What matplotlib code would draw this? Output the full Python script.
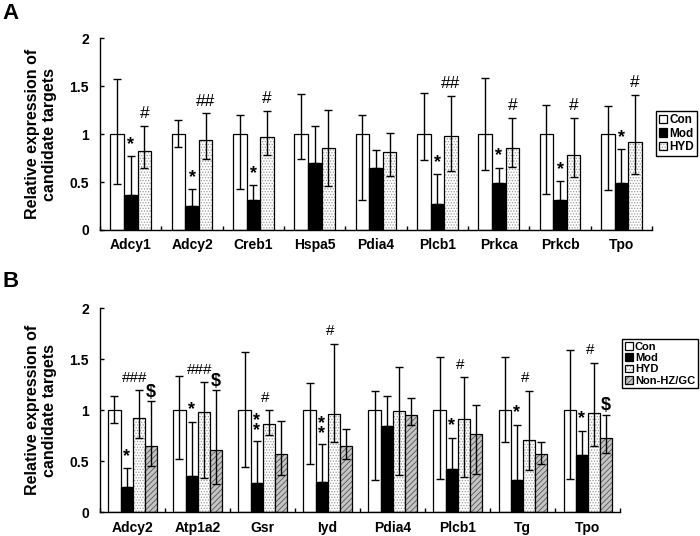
import numpy as np
import matplotlib
matplotlib.use('Agg')
from matplotlib import pyplot as plt

plt.rcParams['font.family'] = ['Liberation Sans', 'DejaVu Sans']
plt.rcParams['hatch.linewidth'] = 0.6

# panel A
genes_a = ['Adcy1', 'Adcy2', 'Creb1', 'Hspa5', 'Pdia4', 'Plcb1', 'Prkca', 'Prkcb', 'Tpo']
con_a_hi = [1.575, 1.143, 1.202, 1.418, 1.195, 1.425, 1.582, 1.30, 1.293]
con_a_lo = [0.48, 0.871, 0.425, 0.739, 0.314, 0.728, 0.624, 0.376, 0.415]
mod_a = [0.366, 0.251, 0.31, 0.704, 0.652, 0.275, 0.491, 0.31, 0.495]
mod_a_hi = [0.767, 0.429, 0.467, 1.087, 0.833, 0.585, 0.652, 0.509, 0.847]
hyd_a = [0.829, 0.937, 0.972, 0.854, 0.819, 0.979, 0.857, 0.787, 0.916]
hyd_a_hi = [1.09, 1.216, 1.24, 1.254, 1.01, 1.397, 1.167, 1.164, 1.408]
hyd_a_lo = [0.65, 0.746, 0.78, 0.46, 0.564, 0.617, 0.655, 0.554, 0.589]
mod_a_sig = ['*', '*', '*', '', '', '*', '*', '*', '*']
hyd_a_sig = ['#', '##', '#', '', '', '##', '#', '#', '#']

# panel B
genes_b = ['Adcy2', 'Atp1a2', 'Gsr', 'Iyd', 'Pdia4', 'Plcb1', 'Tg', 'Tpo']
con_b_hi = [1.14, 1.337, 1.572, 1.271, 1.193, 1.52, 1.523, 1.592]
con_b_lo = [0.873, 0.52, 0.448, 0.474, 0.317, 0.324, 0.693, 0.327]
mod_b = [0.252, 0.359, 0.284, 0.294, 0.85, 0.428, 0.32, 0.565]
mod_b_hi = [0.431, 0.886, 0.703, 0.667, 1.14, 0.729, 0.853, 0.801]
hyd_b = [0.922, 0.987, 0.869, 0.967, 0.99, 0.915, 0.706, 0.971]
hyd_b_hi = [1.199, 1.278, 1.0, 1.654, 1.425, 1.327, 1.193, 1.467]
hyd_b_lo = [0.725, 0.34, 0.758, 0.686, 0.366, 0.35, 0.415, 0.65]
non_b = [0.65, 0.611, 0.572, 0.654, 0.951, 0.771, 0.572, 0.729]
non_b_hi = [1.088, 1.196, 0.899, 0.817, 1.121, 1.056, 0.693, 0.958]
non_b_lo = [0.454, 0.281, 0.366, 0.52, 0.856, 0.379, 0.47, 0.585]
mod_b_sig = ['*', '*', '**', '**', '', '*', '*', '*']
hyd_b_sig = ['###', '###', '#', '#', '', '#', '#', '#']
non_b_sig = ['$', '$', '', '', '', '', '', '$']

fig = plt.figure(figsize=(7, 5.36), dpi=100)
axA = fig.add_axes([0.1429, 0.5709, 0.7886, 0.3576])
axB = fig.add_axes([0.1429, 0.0442, 0.7429, 0.3806])


def draw_bars(ax, x, vals, lo, hi, w, style, label):
    fc, hatch, hc = style
    bars = ax.bar(x, vals, w, color=fc, edgecolor='k', linewidth=0.9,
                  hatch=hatch, label=label, zorder=2)
    if hc is not None:
        for p in bars:
            p._hatch_color = matplotlib.colors.to_rgba(hc)
    vals = np.array(vals)
    ax.errorbar(x, vals, yerr=[vals - np.array(lo), np.array(hi) - vals],
                fmt='none', ecolor='k', elinewidth=1.0, capsize=2.6,
                capthick=1.0, zorder=3)


def mark(ax, x, tops, sigs, off, size, weight):
    for xi, t, s in zip(x, tops, sigs):
        if s == '':
            continue
        if s == '**':
            ax.text(xi, t + 0.15, '*\n*', ha='center', va='center',
                    fontsize=13, fontweight='bold', linespacing=0.45)
        else:
            ax.text(xi, t + off, s, ha='center', va='center',
                    fontsize=size, fontweight=weight)


styles = {
    'Con': ('white', None, None),
    'Mod': ('black', None, None),
    'HYD': ('white', '......', '#9a9a9a'),
    'Non-HZ/GC': ('#c4c4c4', '//////', '#555555'),
}


def style_axes(ax, genes):
    n = len(genes)
    ax.set_xlim(0, n)
    ax.set_ylim(0, 2)
    ax.set_yticks([0, 0.5, 1, 1.5, 2])
    ax.set_yticklabels(['0', '0.5', '1', '1.5', '2'], fontsize=10, fontweight='bold')
    ax.set_xticks(np.arange(n) + 0.5)
    ax.set_xticklabels(genes, fontsize=10, fontweight='bold')
    ax.set_xticks(np.arange(n + 1), minor=True)
    ax.tick_params(axis='x', which='major', length=0, pad=6)
    ax.tick_params(axis='x', which='minor', direction='in', length=3, width=1)
    ax.tick_params(axis='y', direction='in', length=3, width=1, pad=8)
    for s in ['top', 'right']:
        ax.spines[s].set_visible(False)
    for s in ['left', 'bottom']:
        ax.spines[s].set_linewidth(1.0)
    ax.set_ylabel('Relative expression of\ncandidate targets', fontsize=11.5,
                  fontweight='bold', labelpad=9)


leg_kw = dict(loc='upper left', frameon=True, fancybox=False, edgecolor='k',
              framealpha=1, borderpad=0.25, labelspacing=0.12,
              handlelength=0.7, handleheight=0.7, handletextpad=0.2,
              borderaxespad=0)

# panel A
xa = np.arange(len(genes_a)) + 0.5
wa = 0.222
draw_bars(axA, xa - wa, np.ones(len(genes_a)), con_a_lo, con_a_hi, wa, styles['Con'], 'Con')
draw_bars(axA, xa, mod_a, mod_a, mod_a_hi, wa, styles['Mod'], 'Mod')
draw_bars(axA, xa + wa, hyd_a, hyd_a_lo, hyd_a_hi, wa, styles['HYD'], 'HYD')
mark(axA, xa, mod_a_hi, mod_a_sig, 0.12, 13, 'bold')
mark(axA, xa + wa, hyd_a_hi, hyd_a_sig, 0.13, 12.5, 'normal')
style_axes(axA, genes_a)
axA.legend(bbox_to_anchor=(1.007, 0.62), prop={'weight': 'bold', 'size': 8.5}, **leg_kw)

# panel B
xb = np.arange(len(genes_b)) + 0.5
wb = 0.185
draw_bars(axB, xb - 1.5 * wb, np.ones(len(genes_b)), con_b_lo, con_b_hi, wb, styles['Con'], 'Con')
draw_bars(axB, xb - 0.5 * wb, mod_b, mod_b, mod_b_hi, wb, styles['Mod'], 'Mod')
draw_bars(axB, xb + 0.5 * wb, hyd_b, hyd_b_lo, hyd_b_hi, wb, styles['HYD'], 'HYD')
draw_bars(axB, xb + 1.5 * wb, non_b, non_b_lo, non_b_hi, wb, styles['Non-HZ/GC'], 'Non-HZ/GC')
mark(axB, xb - 0.5 * wb, mod_b_hi, mod_b_sig, 0.12, 13, 'bold')
mark(axB, xb + 0.2 * wb, hyd_b_hi, hyd_b_sig, 0.12, 11, 'normal')
mark(axB, xb + 1.5 * wb, non_b_hi, non_b_sig, 0.09, 13, 'bold')
style_axes(axB, genes_b)
axB.legend(bbox_to_anchor=(1.004, 0.85), prop={'weight': 'bold', 'size': 8}, **leg_kw)

fig.text(0.003, 0.995, 'A', fontsize=16, fontweight='bold', va='top')
fig.text(0.003, 0.495, 'B', fontsize=16, fontweight='bold', va='top')

fig.savefig('out.png', dpi=100)
